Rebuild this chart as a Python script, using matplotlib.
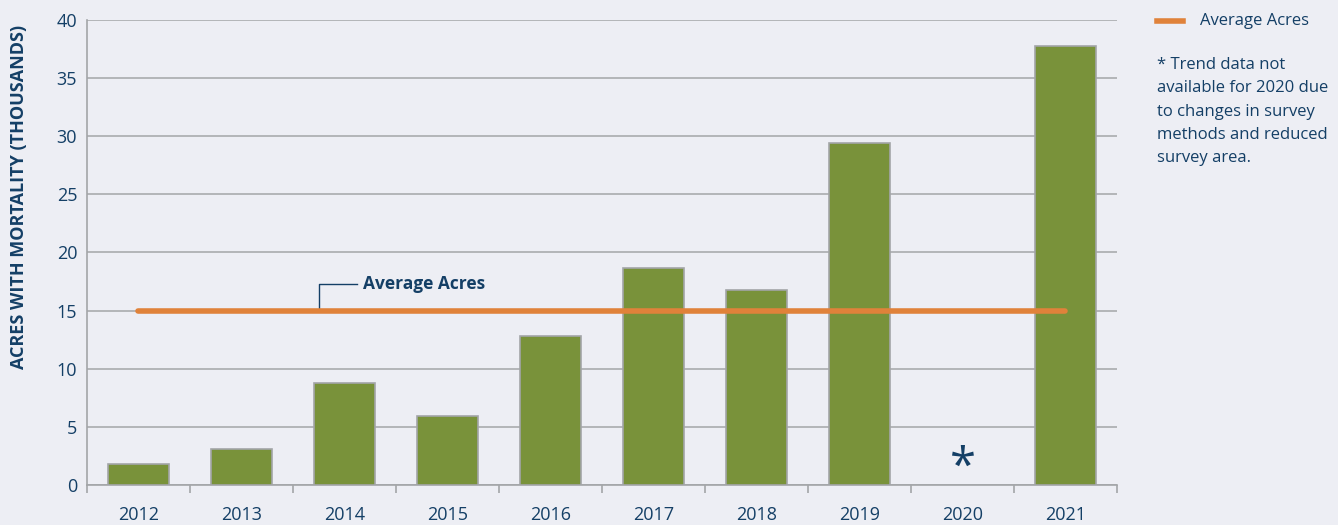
import matplotlib.pyplot as plt
import numpy as np

# Données
years = ["2012", "2013", "2014", "2015", "2016", "2017", "2018", "2019", "2020", "2021"]
acres = [1.8, 3.1, 8.8, 5.9, 12.8, 18.7, 16.8, 29.4, np.nan, 37.8]
average_acres = 15
yticks = [0, 5, 10, 15, 20, 25, 30, 35, 40]
footnote = "* Trend data not\navailable for 2020 due\nto changes in survey\nmethods and reduced\nsurvey area."

bg = "#edeef4"
navy = "#143f66"
green = "#79923a"
orange = "#e0823a"
gray = "#a3a5a8"

plt.rcParams['font.family'] = ['Open Sans', 'DejaVu Sans']

fig = plt.figure(figsize=(13.38, 5.25), dpi=100, facecolor=bg)
ax = fig.add_axes([0.065, 0.0762, 0.7698, 0.8857], facecolor=bg)

x = np.arange(len(years))
ax.bar(x, acres, width=0.6, color=green, edgecolor=gray, linewidth=1.2, zorder=3)

# Ligne de moyenne
ax.plot([x[0], x[-1]], [average_acres, average_acres], color=orange, lw=4,
        solid_capstyle='round', zorder=4)

# Astérisque pour 2020
ax.text(x[8], 1.5, "*", ha='center', va='center', fontsize=34, color=navy, zorder=5)

# Annotation de la moyenne
ax.plot([1.75, 1.75, 2.12], [15, 17.3, 17.3], color=navy, lw=1, zorder=2)
ax.text(2.18, 17.3, "Average Acres", ha='left', va='center', fontsize=12.5,
        fontweight='bold', color=navy)

# Axes
ax.set_xlim(-0.5, len(years) - 0.5)
ax.set_ylim(0, 40)
ax.set_yticks(yticks)
ax.set_yticklabels([str(t) for t in yticks], fontsize=13, color=navy)
ax.set_xticks(x)
ax.set_xticklabels(years, fontsize=13, color=navy)
ax.set_xticks(np.arange(len(years) + 1) - 0.5, minor=True)
ax.tick_params(axis='x', which='major', length=0, pad=15)
ax.tick_params(axis='x', which='minor', length=6, color=gray, width=1.2, direction='out')
ax.tick_params(axis='y', length=0, pad=7)

ax.grid(axis='y', color=gray, lw=1.1, zorder=0)
for s in ['top', 'right']:
    ax.spines[s].set_visible(False)
for s in ['left', 'bottom']:
    ax.spines[s].set_color(gray)
    ax.spines[s].set_linewidth(1.2)

ax.set_ylabel("ACRES WITH MORTALITY (THOUSANDS)", fontsize=13, fontweight='bold',
              color=navy)
ax.yaxis.set_label_coords(-0.057, 0.62)

# Légende et note
fig.add_artist(plt.Line2D([0.8647, 0.884], [0.96, 0.96], color=orange, lw=4))
fig.text(0.897, 0.96, "Average Acres", ha='left', va='center', fontsize=12, color=navy)
fig.text(0.8647, 0.892, footnote, ha='left', va='top', fontsize=12, color=navy,
         linespacing=1.62)

fig.savefig("out.png", dpi=100, facecolor=bg)
